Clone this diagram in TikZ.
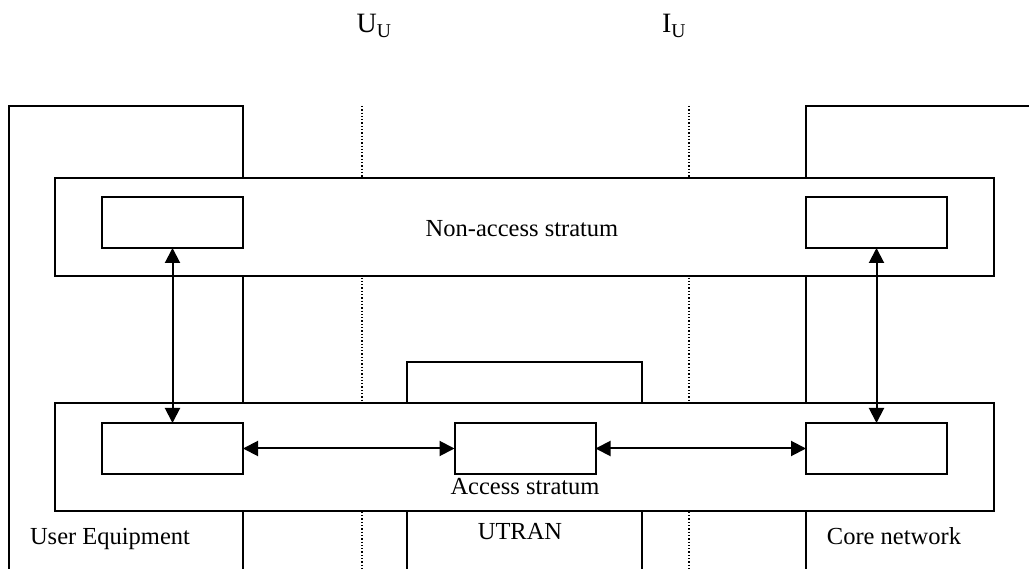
\documentclass[tikz,border=0pt]{standalone}
\usepackage{fontspec}
\setmainfont{Liberation Serif}
\usetikzlibrary{arrows.meta}

\begin{document}
\begin{tikzpicture}[x=1pt, y=-1pt, line width=2pt, >={Triangle[length=15pt,width=15pt]},
    netbox/.style={draw, fill=white, inner sep=0pt, outer sep=0pt},
    stratum/.style={draw, fill=white, inner sep=0pt, outer sep=0pt, minimum width=939pt},
    entity/.style={draw, fill=white, inner sep=0pt, outer sep=0pt, minimum width=141pt, minimum height=51pt},
    lbl/.style={anchor=base, inner sep=0pt, font=\fontsize{24.5}{29}\selectfont},
    toplbl/.style={anchor=base, inner sep=0pt, font=\fontsize{28}{33}\selectfont}]
    \useasboundingbox (0,0) rectangle (1029,569);
    \clip (0,0) rectangle (1029,569);

    % reference points (Uu and Iu)
    \coordinate (uutop) at (362,106);
    \coordinate (uubot) at (362,569);
    \coordinate (iutop) at (689,106);
    \coordinate (iubot) at (689,569);
    \draw[line width=1.3pt, dash pattern=on 1.3pt off 2pt] (uutop) -- (uubot);
    \draw[line width=1.3pt, dash pattern=on 1.3pt off 2pt] (iutop) -- (iubot);

    \node[toplbl] (uu) at (374,33) {U\textsubscript{U}};
    \node[toplbl] (iu) at (674,33) {I\textsubscript{U}};

    % network parts
    \node[netbox, minimum width=234pt, minimum height=514pt] (ue) at (126,363) {};
    \node[netbox, minimum width=274pt, minimum height=514pt] (cn) at (943,363) {};
    \node[netbox, minimum width=235pt, minimum height=258pt] (utran) at (524.5,491) {};

    % strata
    \node[stratum, minimum height=98pt] (nas) at (524.5,227) {};
    \node[stratum, minimum height=108pt] (as) at (524.5,457) {};

    \node[entity] (nasue) at (172.5,222.5) {};
    \node[entity] (nascn) at (876.5,222.5) {};
    \node[entity] (asue) at (172.5,448.5) {};
    \node[entity] (asran) at (525,448.5) {};
    \node[entity] (ascn) at (876.5,448.5) {};

    \node[lbl] (naslbl) at (522,237) {Non-access stratum};
    \node[lbl] (aslbl) at (525,494) {Access stratum};
    \node[lbl] (uelbl) at (110,544) {User Equipment};
    \node[lbl] (utranlbl) at (520,539) {UTRAN};
    \node[lbl] (cnlbl) at (894,544) {Core network};

    \draw[<->] (nasue) -- (asue);
    \draw[<->] (nascn) -- (ascn);
    \draw[<->] (asue) -- (asran);
    \draw[<->] (asran) -- (ascn);
  \end{tikzpicture}
\end{document}
